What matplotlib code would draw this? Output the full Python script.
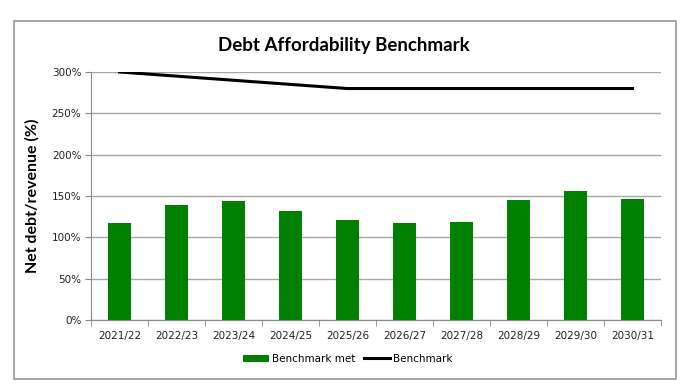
import matplotlib.pyplot as plt
from matplotlib.patches import Rectangle
from matplotlib.ticker import FuncFormatter

# ---------- Data ----------

years = ["2021/22", "2022/23", "2023/24", "2024/25", "2025/26",
         "2026/27", "2027/28", "2028/29", "2029/30", "2030/31"]
benchmark_met = [117, 139, 144, 132, 121, 117, 119, 145, 156, 146]
benchmark = [300, 295, 290, 285, 280, 280, 280, 280, 280, 280]

GREEN = "#008000"
GRID = "#a6a6a6"

# ---------- Figure ----------

fig = plt.figure(figsize=(6.87, 3.88), dpi=100)
W, H = 687, 388

# outer chart border
fig.patches.append(Rectangle((14 / W, 1 - 379 / H), 662 / W, 358 / H,
                             transform=fig.transFigure, fill=False,
                             edgecolor="#a8a8a8", linewidth=1.4))

ax = fig.add_axes([91 / W, 1 - 320 / H, 570 / W, 248 / H])

x = list(range(len(years)))
bars = ax.bar(x, benchmark_met, width=0.42, color=GREEN, label="Benchmark met", zorder=2)
line, = ax.plot(x, benchmark, color="black", linewidth=2.2, label="Benchmark", zorder=3)

ax.set_xlim(-0.5, len(years) - 0.5)
ax.set_ylim(0, 300)
ax.set_yticks(range(0, 301, 50))
ax.yaxis.set_major_formatter(FuncFormatter(lambda v, p: f"{int(v)}%"))
ax.grid(axis="y", color=GRID, linewidth=1, zorder=0)

ax.set_xticks(x)
ax.set_xticklabels(years)
ax.set_xticks([i - 0.5 for i in range(len(years) + 1)], minor=True)
ax.tick_params(axis="x", which="major", length=0, pad=8, labelsize=7.5, colors="#222222")
ax.tick_params(axis="x", which="minor", length=4, color="#888888", direction="out")
ax.tick_params(axis="y", length=4, color="#888888", labelsize=7.5, colors="#222222", pad=3)

for side in ["top", "right"]:
    ax.spines[side].set_visible(False)
for side in ["left", "bottom"]:
    ax.spines[side].set_color("#888888")

ax.set_ylabel("Net debt/revenue (%)", fontsize=11.5, fontweight="bold", family="Lato")
ax.yaxis.set_label_coords(-0.09, 0.5)

fig.text(344 / W, 1 - 45 / H, "Debt Affordability Benchmark", ha="center", va="center",
         fontsize=13.5, fontweight="bold", family="Lato")

fig.legend([bars, line], ["Benchmark met", "Benchmark"], loc="center",
           bbox_to_anchor=(348 / W, 1 - 359 / H), ncol=2, frameon=False,
           fontsize=7.5, handlelength=2.5, columnspacing=0.8, handletextpad=0.3)

fig.savefig("out.png", dpi=100)
